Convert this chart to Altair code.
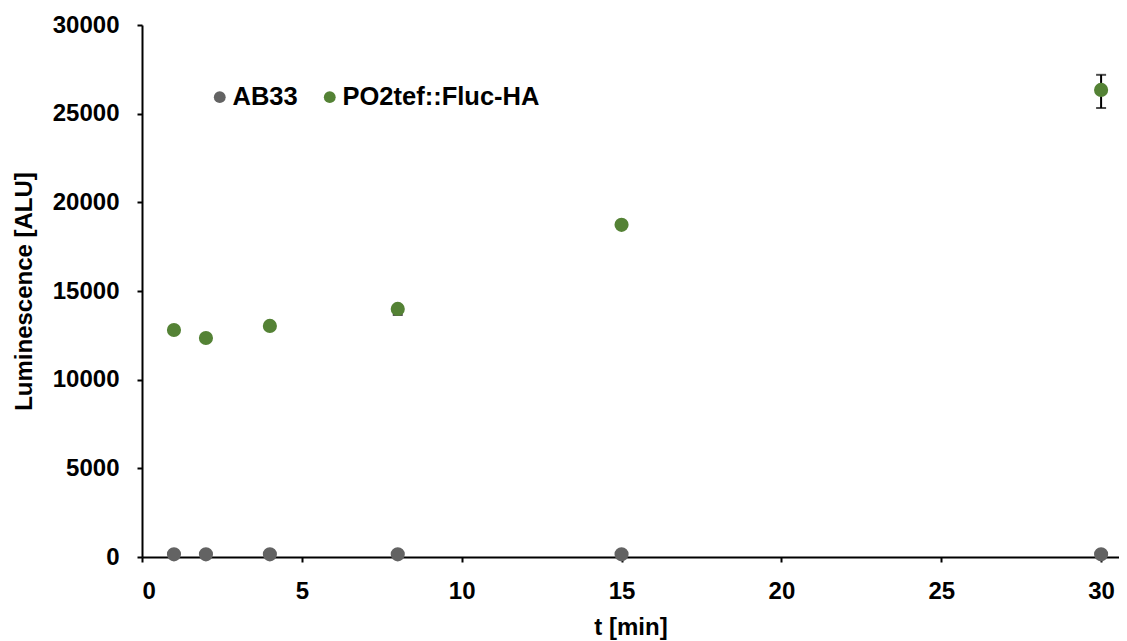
import altair as alt
import pandas as pd

times = [1, 2, 4, 8, 15, 30]
ab33 = [150, 150, 150, 150, 150, 150]
ab33_err = [40, 40, 40, 40, 40, 60]
fluc = [12800, 12350, 13030, 13990, 18730, 26340]
fluc_lo = [12650, 12250, 12950, 13650, 18600, 25320]
fluc_hi = [12950, 12450, 13110, 14150, 18850, 27190]

series = ["AB33", "PO2tef::Fluc-HA"]
colors = ["#636363", "#548235"]

rows = []
for t, v, e in zip(times, ab33, ab33_err):
    rows.append({"t": t, "val": v, "lo": v - e, "hi": v + e, "strain": series[0]})
for t, v, lo, hi in zip(times, fluc, fluc_lo, fluc_hi):
    rows.append({"t": t, "val": v, "lo": lo, "hi": hi, "strain": series[1]})
df = pd.DataFrame(rows)

FONT = "Liberation Sans"
FS = 24

x = alt.X("t:Q", scale=alt.Scale(domain=[0, 30.56], nice=False),
          axis=alt.Axis(title="t [min]", values=[0, 5, 10, 15, 20, 25, 30], format="d",
                        grid=False, tickSize=5, labelPadding=17, titlePadding=12))
y = alt.Y("val:Q", scale=alt.Scale(domain=[0, 30000], nice=False),
          axis=alt.Axis(title="Luminescence [ALU]", values=list(range(0, 30001, 5000)),
                        format="d", grid=False, tickSize=5, labelPadding=18,
                        titlePadding=16))
color = alt.Color("strain:N", scale=alt.Scale(domain=series, range=colors),
                  legend=alt.Legend(title=None, orient="none", direction="horizontal",
                                    legendX=65, legendY=59, symbolType="circle",
                                    symbolSize=140, symbolOpacity=1, labelFontSize=25.5,
                                    labelFont=FONT, labelFontWeight="bold",
                                    labelColor="black", columnPadding=19, labelLimit=400,
                                    symbolStrokeWidth=0, labelOffset=0))

base = alt.Chart(df)
err = base.mark_errorbar(ticks=alt.MarkConfig(size=10, color="black"), color="black",
                         thickness=2).encode(
    x=x, y=alt.Y("lo:Q", title="Luminescence [ALU]"), y2="hi:Q")
pts = base.mark_point(filled=True, size=200, opacity=1, shape="circle").encode(
    x=x, y=y, color=color)

chart = alt.layer(err, pts).properties(
    width=977, height=532,
    padding={"left": 134, "top": 17, "right": 0, "bottom": 84},
    autosize=alt.AutoSizeParams(type="none"),
).configure_view(stroke=None).configure_axis(
    labelFont=FONT, titleFont=FONT, labelFontSize=FS, titleFontSize=FS,
    labelFontWeight="bold", titleFontWeight="bold", labelColor="black",
    titleColor="black", domainColor="black", tickColor="black",
    domainWidth=2, tickWidth=2,
)

chart.save("out.html", embed_options={"renderer": "svg", "actions": False})
